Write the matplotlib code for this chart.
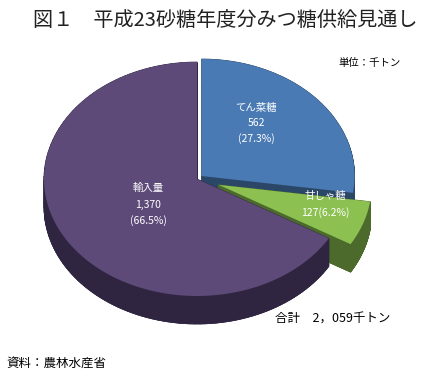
import numpy as np
import matplotlib.pyplot as plt
from matplotlib.patches import Polygon

plt.rcParams['font.family'] = ['Noto Sans CJK JP', 'DejaVu Sans']

# data (千トン)
names = ['てん菜糖', '甘しゃ糖', '輸入量']
values = [562, 127, 1370]
shares = [27.3, 6.2, 66.5]
top_colors = ['#4a7ab4', '#8cc152', '#5d4a78']
side_colors = ['#2b4768', '#4c6a2c', '#2f2541']
explode = [6, 23, 0]   # px along mid angle

# pie geometry in pixels
cx, cy = 197, 179
rx, ry = 153, 117
depth = 28

fig = plt.figure(figsize=(4.25, 3.8), dpi=100)
ax = fig.add_axes([0, 0, 1, 1])
ax.set_xlim(0, 425)
ax.set_ylim(380, 0)
ax.axis('off')

# angles: start at 90 deg going clockwise
total = float(sum(values))
starts = []
a = 90.0
for v in values:
    starts.append((a, a - 360.0 * v / total))
    a -= 360.0 * v / total

def slice_pts(t0, t1, ox, oy):
    t = np.radians(np.linspace(t0, t1, 120))
    xs = ox + rx * np.cos(t)
    ys = oy - ry * np.sin(t)
    return np.column_stack([np.r_[ox, xs], np.r_[oy, ys]])

def draw_slice(i):
    t0, t1 = starts[i]
    mid = np.radians((t0 + t1) / 2)
    ox = cx + explode[i] * np.cos(mid)
    oy = cy - explode[i] * np.sin(mid) * ry / rx
    top = slice_pts(t0, t1, ox, oy)
    bot = top + np.array([0, depth])
    ax.add_patch(Polygon(bot, closed=True, fc=side_colors[i], ec=side_colors[i], lw=0.5))
    n = len(top)
    for k in range(n):
        p, q = top[k], top[(k + 1) % n]
        quad = [p, q, q + [0, depth], p + [0, depth]]
        ax.add_patch(Polygon(quad, closed=True, fc=side_colors[i], ec=side_colors[i], lw=0.5))
    ax.add_patch(Polygon(top, closed=True, fc=top_colors[i], ec='none'))

# back to front: blue, green, purple
for i in [0, 1, 2]:
    draw_slice(i)

lab = dict(color='white', fontsize=7.5, ha='center', va='center')
ax.text(256, 108, names[0], **lab)
ax.text(256, 123, f'{values[0]}', **lab)
ax.text(256, 139, f'({shares[0]}%)', **lab)
ax.text(325, 196, names[1], **lab)
ax.text(325, 213, f'{values[1]}({shares[1]}%)', **lab)
ax.text(148, 188, names[2], **lab)
ax.text(148, 205, f'{values[2]:,}', **lab)
ax.text(148, 221, f'({shares[2]}%)', **lab)

ax.text(33, 20, '図１　平成23砂糖年度分みつ糖供給見通し', fontsize=14.5, ha='left', va='center', color='#222222')
ax.text(338, 63, '単位：千トン', fontsize=7.5, ha='left', va='center', color='black')
ax.text(275, 319, '合計　2，059千トン', fontsize=9, ha='left', va='center', color='black')
ax.text(6, 363, '資料：農林水産省', fontsize=9, ha='left', va='center', color='black')

fig.savefig('out.png', dpi=100)
